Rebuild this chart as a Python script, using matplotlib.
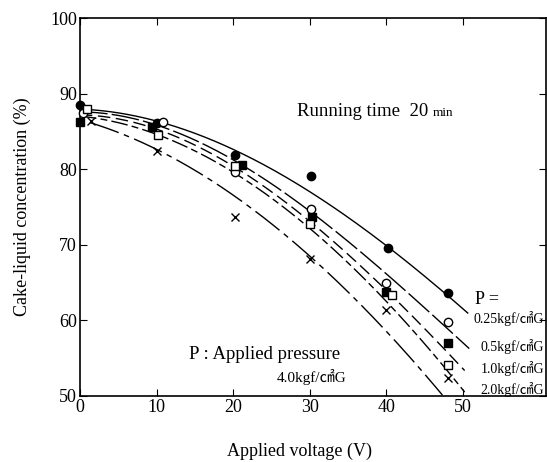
import numpy as np
import matplotlib
matplotlib.use("Agg")
import matplotlib.pyplot as plt

plt.rcParams['font.family'] = ['Liberation Serif', 'DejaVu Serif']

# measured points, one list per applied pressure
pressures = ["0.25", "0.5", "1.0", "2.0", "4.0"]
volt_p025 = [0, 10.0, 20.2, 30.2, 40.2, 48.0]
conc_p025 = [88.5, 86.1, 81.9, 79.1, 69.6, 63.6]
volt_p05 = [0.4, 10.8, 20.2, 30.2, 40.0, 48.0]
conc_p05 = [87.4, 86.2, 79.6, 74.7, 64.9, 59.8]
volt_p10 = [0, 9.4, 21.1, 30.3, 40.0, 48.0]
conc_p10 = [86.2, 85.6, 80.6, 73.7, 63.7, 57.0]
volt_p20 = [0.9, 10.2, 20.2, 30.0, 40.7, 48.0]
conc_p20 = [88.0, 84.5, 80.4, 72.8, 63.3, 54.1]
volt_p40 = [1.4, 10.0, 20.2, 30.0, 40.0, 48.0]
conc_p40 = [86.4, 82.4, 73.7, 68.1, 61.4, 52.4]

# hand-drawn trend curves, read at a few voltages along each line
curve_v025 = [0, 10, 20, 30, 40, 50.6]
curve_c025 = [88.0, 86.2, 82.8, 77.0, 69.8, 61.0]
curve_v05 = [0, 10, 20, 30, 40, 50.8]
curve_c05 = [87.6, 85.8, 81.2, 74.6, 66.0, 56.3]
curve_v10 = [0, 10, 20, 30, 40, 50.2]
curve_c10 = [87.2, 85.3, 80.3, 73.3, 63.8, 53.4]
curve_v20 = [0, 10, 20, 30, 40, 50.2]
curve_c20 = [87.0, 84.7, 79.5, 72.2, 62.5, 50.5]
curve_v40 = [1.3, 10, 20, 30, 40, 47.3]
curve_c40 = [86.1, 82.8, 76.5, 68.3, 58.8, 50.0]

volts = [volt_p025, volt_p05, volt_p10, volt_p20, volt_p40]
concs = [conc_p025, conc_p05, conc_p10, conc_p20, conc_p40]
curve_v = [curve_v025, curve_v05, curve_v10, curve_v20, curve_v40]
curve_c = [curve_c025, curve_c05, curve_c10, curve_c20, curve_c40]

markers = [dict(marker='o', mfc='black'), dict(marker='o', mfc='white'),
           dict(marker='s', mfc='black'), dict(marker='s', mfc='white'),
           dict(marker='x', mfc='black')]
styles = ['-', (0, (20, 3)), (0, (9, 4)), (0, (12, 3, 5, 3)), (0, (22, 4, 4, 4))]

fig = plt.figure(figsize=(5.47, 4.62), dpi=100)
ax = fig.add_axes([0.146, 0.143, 0.852, 0.818])

for cv, cc, ls in zip(curve_v, curve_c, styles):
    coef = np.polyfit(cv, cc, 3)
    xs = np.linspace(cv[0], cv[-1], 200)
    ax.plot(xs, np.polyval(coef, xs), color='black', lw=1.0, ls=ls)

for v, c, m in zip(volts, concs, markers):
    ax.plot(v, c, ls='none', color='black', mec='black', ms=6,
            mew=1.0, clip_on=False, zorder=5, **m)

ax.set_xlim(0, 60.8)
ax.set_ylim(50, 100)
ax.set_xticks([0, 10, 20, 30, 40, 50])
ax.set_yticks([50, 60, 70, 80, 90, 100])
ax.tick_params(direction='in', top=True, right=True, labelsize=13, length=5, pad=2)
for s in ax.spines.values():
    s.set_linewidth(1.2)

ax.set_xlabel("Applied voltage (V)", fontsize=13)
ax.xaxis.set_label_coords((300 - 80) / 466, -0.125)
ax.set_ylabel("Cake-liquid concentration (%)", fontsize=13, labelpad=14)

ax.text(28.3, 87.6, "Running time  20", fontsize=13.5, va='center')
ax.text(46.0, 87.4, "min", fontsize=9.5, va='center')
ax.text(14.3, 55.5, "P : Applied pressure", fontsize=13.5, va='center')

# pressure labels; ㎠ comes from the CJK font
unit_fonts = ['Liberation Serif', 'Noto Sans CJK JP']
ax.text(51.6, 62.8, "P =", fontsize=13, va='center')
ax.text(51.3, 60.2, "0.25kgf/㎠G", fontsize=10, va='center', family=unit_fonts)
ax.text(52.3, 56.5, "0.5kgf/㎠G", fontsize=10, va='center', family=unit_fonts)
ax.text(52.3, 53.6, "1.0kgf/㎠G", fontsize=10, va='center', family=unit_fonts)
ax.text(52.3, 50.9, "2.0kgf/㎠G", fontsize=10, va='center', family=unit_fonts)
ax.text(25.7, 52.5, "4.0kgf/㎠G", fontsize=11, va='center', family=unit_fonts)

fig.savefig("out.png", dpi=100)
